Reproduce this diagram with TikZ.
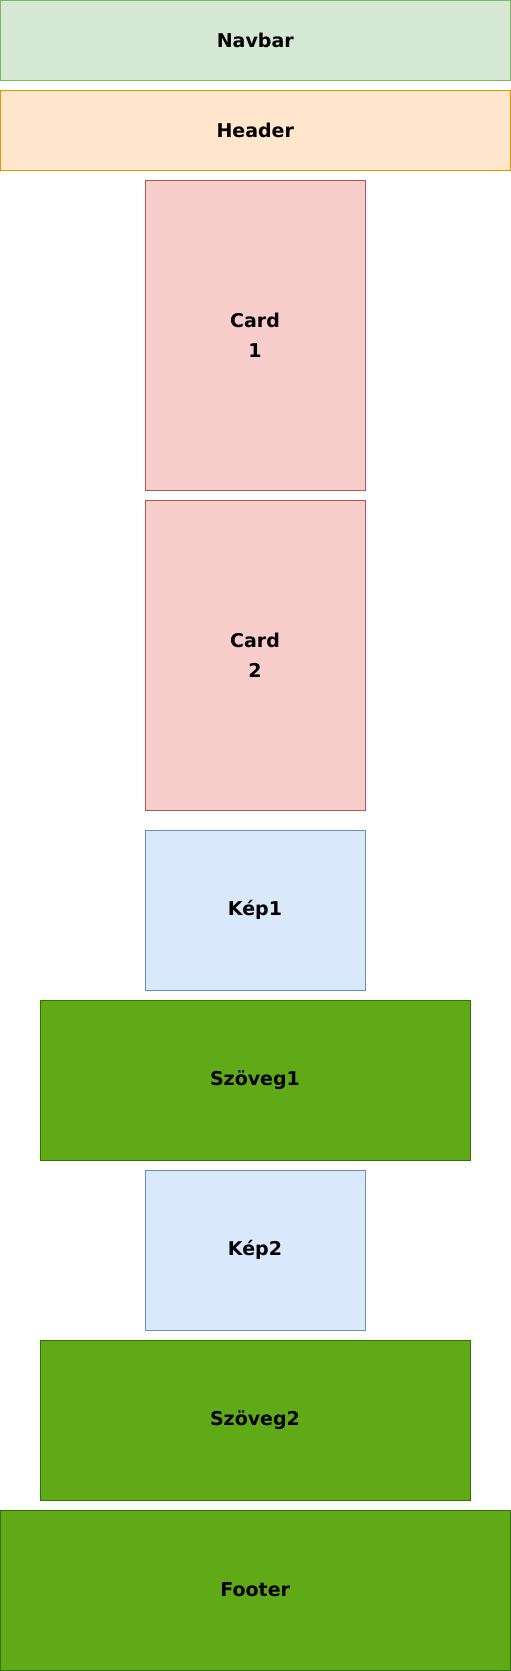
\documentclass[tikz,border=0pt]{standalone}
\usepackage{fontspec}
\setmainfont{DejaVu Sans}
\definecolor{navF}{HTML}{D5E8D4}\definecolor{navS}{HTML}{82B366}
\definecolor{hdF}{HTML}{FFE6CC}\definecolor{hdS}{HTML}{D79B00}
\definecolor{cdF}{HTML}{F8CECC}\definecolor{cdS}{HTML}{B85450}
\definecolor{kpF}{HTML}{DAE8FC}\definecolor{kpS}{HTML}{6C8EBF}
\definecolor{grF}{HTML}{60A917}\definecolor{grS}{HTML}{2D7600}
\tikzset{
  box/.style={draw, line width=1pt, inner sep=0pt, align=center,
    font=\fontsize{19}{30}\selectfont\bfseries, text=black},
  navbox/.style={box, fill=navF, draw=navS},
  hdbox/.style={box, fill=hdF, draw=hdS},
  cdbox/.style={box, fill=cdF, draw=cdS},
  kpbox/.style={box, fill=kpF, draw=kpS},
  grbox/.style={box, fill=grF, draw=grS},
}
\begin{document}
\begin{tikzpicture}[x=1pt,y=-1pt]
\useasboundingbox (0,0) rectangle (511,1671);
\path[navbox] (0.5,0.5) rectangle (510,80) node[midway] (nav) {Navbar};
\path[hdbox] (0.5,90) rectangle (510,170) node[midway] (hd) {Header};
\path[cdbox] (145,180) rectangle (365,490) node[midway] (c1) {Card\\1};
\path[cdbox] (145,500) rectangle (365,810) node[midway] (c2) {Card\\2};
\path[kpbox] (145,830) rectangle (365,990) node[midway] (k1) {Kép1};
\path[grbox] (40,1000) rectangle (470,1160) node[midway] (s1) {Szöveg1};
\path[kpbox] (145,1170) rectangle (365,1330) node[midway] (k2) {Kép2};
\path[grbox] (40,1340) rectangle (470,1500) node[midway] (s2) {Szöveg2};
\path[grbox] (0.5,1510) rectangle (510,1670) node[midway] (ft) {Footer};
\end{tikzpicture}
\end{document}
